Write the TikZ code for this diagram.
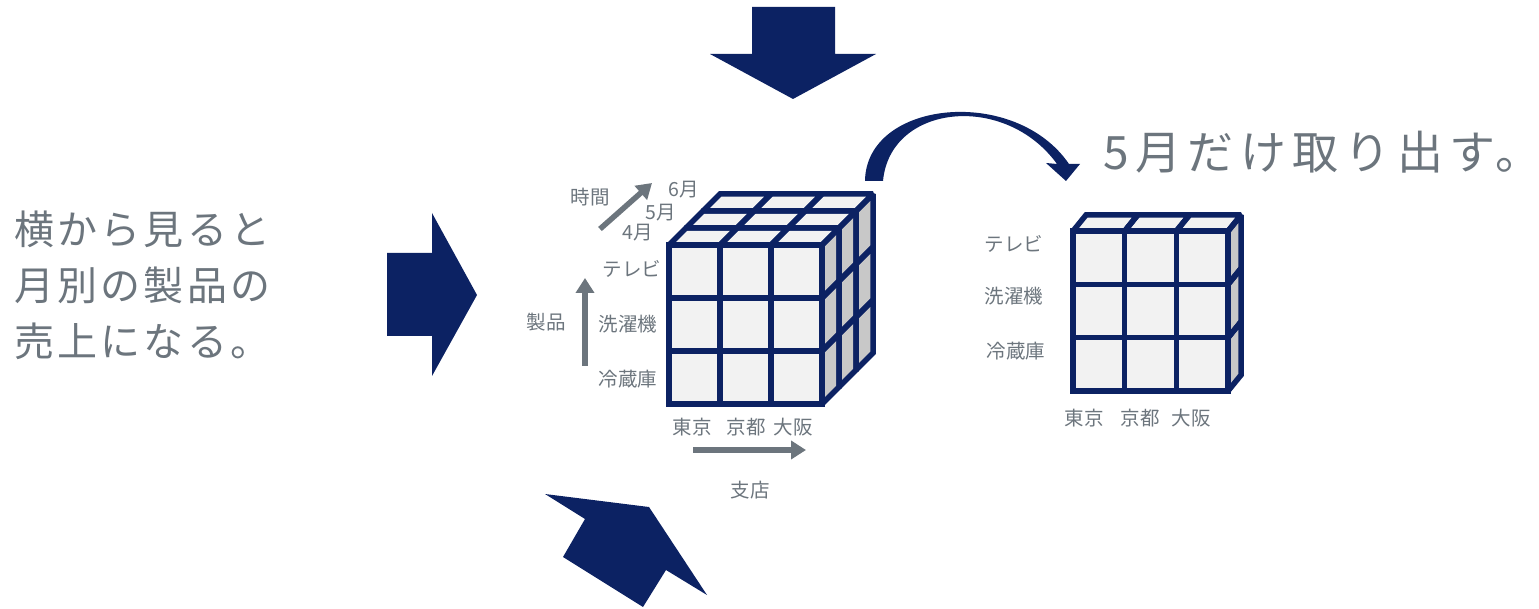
\documentclass[tikz,border=0pt]{standalone}
\usepackage{fontspec}
\setmainfont{Noto Sans CJK JP}
\usetikzlibrary{arrows.meta}
\definecolor{navy}{RGB}{12,34,99}
\definecolor{txtgray}{RGB}{108,117,125}
\definecolor{cellfront}{RGB}{242,242,242}
\definecolor{cellside}{RGB}{200,200,200}
\tikzset{
  bigarrow/.style={fill=navy},
  cubeline/.style={draw=navy,line width=5.5pt,line join=miter,miter limit=1.5},
  lbl/.style={text=txtgray,font=\fontsize{19.5}{20}\selectfont,inner sep=0pt,anchor=base},
  biglbl/.style={text=txtgray,font=\fontsize{40}{40}\selectfont\addfontfeatures{LetterSpace=8},inner sep=0pt,anchor=base west},
  titlelbl/.style={text=txtgray,font=\fontsize{46}{46}\selectfont\addfontfeatures{LetterSpace=14},inner sep=0pt,anchor=base west},
  grayarrow/.style={draw=txtgray,line width=5.5pt,-{Triangle[length=15pt,width=18pt]}},
}
% #1 style for front and top cells, #2 style for side cells
\newcommand{\cubeparts}[2]{%
  \foreach \i in {0,1,2}{\foreach \j in {0,1,2}{
    \path[#1] (\cX+\i*\cw,\cY+\j*\ch) rectangle (\cX+\i*\cw+\cw,\cY+\j*\ch+\ch);}}
  \foreach \i in {0,1,2}{\foreach \k in {0,...,\cLm}{
    \path[#1] (\cX+\i*\cw+\k*\cdX,\cY-\k*\cdY) -- (\cX+\i*\cw+\cw+\k*\cdX,\cY-\k*\cdY)
      -- (\cX+\i*\cw+\cw+\k*\cdX+\cdX,\cY-\k*\cdY-\cdY) -- (\cX+\i*\cw+\k*\cdX+\cdX,\cY-\k*\cdY-\cdY) -- cycle;}}
  \foreach \j in {0,1,2}{\foreach \k in {0,...,\cLm}{
    \path[#2] (\cX+3*\cw+\k*\cdX,\cY+\j*\ch-\k*\cdY) -- (\cX+3*\cw+\k*\cdX+\cdX,\cY+\j*\ch-\k*\cdY-\cdY)
      -- (\cX+3*\cw+\k*\cdX+\cdX,\cY+\j*\ch+\ch-\k*\cdY-\cdY) -- (\cX+3*\cw+\k*\cdX,\cY+\j*\ch+\ch-\k*\cdY) -- cycle;}}
}
\begin{document}
\begin{tikzpicture}[x=1pt,y=-1pt]
\useasboundingbox (0,0) rectangle (1539,609);

% big navy arrows
\fill[bigarrow] (752,7) -- (835,7) -- (835,54) -- (876,54) -- (793,99) -- (710,54) -- (752,54) -- cycle;
\fill[bigarrow] (387,253) -- (432,253) -- (432,213) -- (477,295) -- (432,376) -- (432,336) -- (387,336) -- cycle;
\fill[bigarrow] (585,519) -- (545,494) -- (649,507) -- (707,595) -- (666,570) -- (643,607) -- (563,557) -- cycle;
% curved arrow
\fill[bigarrow] (865,181) .. controls (866,100) and (1015,85) .. (1069,164) -- (1080,164) -- (1066,181)
  -- (1046,163) -- (1057,164) .. controls (1005,92) and (890,104) .. (883,181) -- cycle;

% left text
\node[biglbl] (t1) at (14,245) {横から見ると};
\node[biglbl] (t2) at (14,301) {月別の製品の};
\node[biglbl] (t3) at (14,357) {売上になる。};
\node[titlelbl] (title) at (1103,170) {5月だけ取り出す{\addfontfeatures{LetterSpace=0}\makebox[0.5em][l]{。}}};

% left cube
\def\cX{669}\def\cY{245}\def\cw{51}\def\ch{53}\def\cdX{17}\def\cdY{17}\def\cLm{2}
\cubeparts{fill=cellfront}{fill=cellside}
\cubeparts{cubeline}{cubeline}

% right cube
\def\cX{1073}\def\cY{231}\def\cw{51.7}\def\ch{53.3}\def\cdX{13}\def\cdY{16}\def\cLm{0}
\cubeparts{fill=cellfront}{fill=cellside}
\cubeparts{cubeline}{cubeline}

% left cube labels
\node[lbl] (tv1) at (632,277) {テレビ};
\node[lbl] (wm1) at (628,332) {洗濯機};
\node[lbl] (fr1) at (628,387) {冷蔵庫};
\node[lbl] (prod) at (546,330) {製品};
\node[lbl] (time) at (590,205) {時間};
\node[lbl] (m4) at (638,240) {4月};
\node[lbl] (m5) at (661,220) {5月};
\node[lbl] (m6) at (684,197) {6月};
\node[lbl] (tk1) at (692,434) {東京};
\node[lbl] (ky1) at (746,434) {京都};
\node[lbl] (os1) at (793,434) {大阪};
\node[lbl] (shop) at (750,497) {支店};

% gray arrows
\coordinate (pa) at (585,366); \coordinate (pb) at (585,278);
\coordinate (ta) at (600,229); \coordinate (tb) at (652,183);
\coordinate (sa) at (693,450); \coordinate (sb) at (806,450);
\draw[grayarrow] (pa) -- (pb);
\draw[grayarrow] (ta) -- (tb);
\draw[grayarrow] (sa) -- (sb);

% right cube labels
\node[lbl] (tv2) at (1014,252) {テレビ};
\node[lbl] (wm2) at (1014,304) {洗濯機};
\node[lbl] (fr2) at (1016,359) {冷蔵庫};
\node[lbl] (tk2) at (1084,425) {東京};
\node[lbl] (ky2) at (1140,425) {京都};
\node[lbl] (os2) at (1191,425) {大阪};
\end{tikzpicture}
\end{document}
